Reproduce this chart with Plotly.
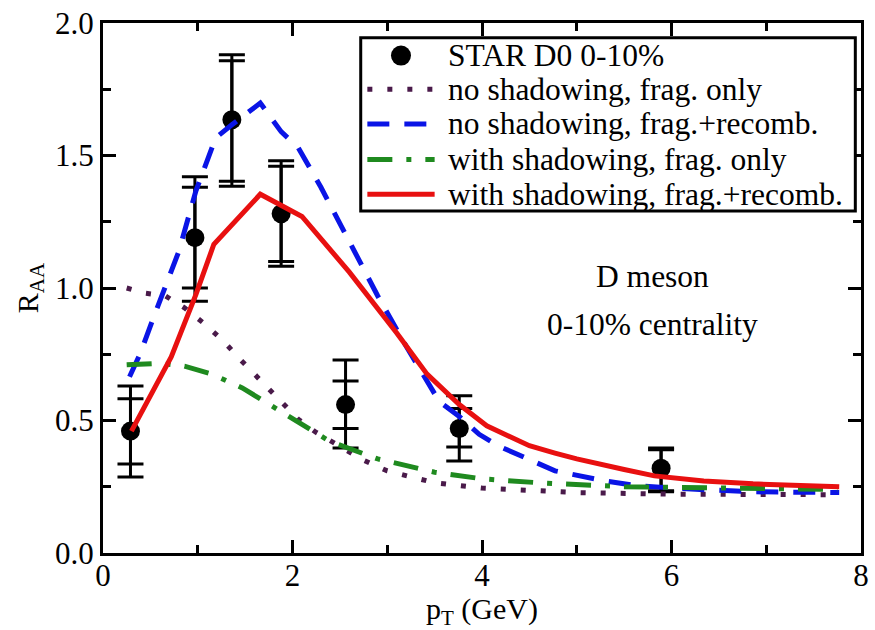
import plotly.graph_objects as go

# ---------------- data ----------------
# STAR D0 0-10% data points
pt_data = [0.29, 0.97, 1.36, 1.88, 2.56, 3.76, 5.89]
raa_data = [0.46, 1.19, 1.635, 1.28, 0.56, 0.47, 0.32]
stat_hi = [0.582, 1.38, 1.858, 1.459, 0.649, 0.545, 0.39]
stat_lo = [0.336, 1.00, 1.403, 1.100, 0.470, 0.400, 0.235]
sys_hi = [0.630, 1.42, 1.880, 1.480, 0.728, 0.593, 0.396]
sys_lo = [0.287, 0.95, 1.384, 1.082, 0.396, 0.347, 0.231]

# no shadowing, frag. only
ns_frag_x = [0.25, 0.45, 0.66, 0.86, 1.07, 1.27, 1.46, 1.66, 1.86, 2.06, 2.25, 2.5, 2.75,
             3.0, 3.5, 4.0, 4.5, 5.0, 6.0, 7.0, 7.75]
ns_frag_y = [1.0, 0.98, 0.97, 0.925, 0.865, 0.80, 0.726, 0.652, 0.58, 0.505, 0.455, 0.40, 0.35,
             0.31, 0.265, 0.245, 0.235, 0.228, 0.222, 0.22, 0.22]

# no shadowing, frag.+recomb.
ns_rec_x = [0.28, 0.39, 0.54, 0.73, 0.80, 0.98, 1.19, 1.36, 1.66, 1.88, 2.06, 2.3, 2.6, 2.9,
            3.2, 3.55, 3.76, 3.97, 4.18, 4.5, 4.77, 5.3, 5.64, 6.16, 6.86, 7.77]
ns_rec_y = [0.665, 0.75, 0.895, 1.067, 1.138, 1.366, 1.567, 1.616, 1.698, 1.59, 1.53, 1.38, 1.17,
            0.97, 0.78, 0.571, 0.515, 0.448, 0.403, 0.35, 0.31, 0.272, 0.254, 0.242, 0.231, 0.228]

# with shadowing, frag. only
ws_frag_x = [0.25, 0.6, 0.86, 1.15, 1.47, 1.76, 2.09, 2.4, 2.9, 3.5, 4.0, 4.6, 5.5, 6.4, 7.2, 7.75]
ws_frag_y = [0.71, 0.716, 0.705, 0.675, 0.623, 0.56, 0.485, 0.42, 0.355, 0.305, 0.28, 0.265,
             0.25, 0.246, 0.243, 0.24]

# with shadowing, frag.+recomb.
ws_rec_x = [0.3, 0.72, 0.98, 1.17, 1.66, 2.1, 2.6, 3.1, 3.42, 3.76, 4.05, 4.25, 4.5, 4.77, 5.0,
            5.5, 5.82, 6.34, 6.86, 7.77]
ws_rec_y = [0.46, 0.74, 0.975, 1.165, 1.354, 1.27, 1.06, 0.83, 0.675, 0.56, 0.48, 0.448, 0.405,
            0.377, 0.355, 0.315, 0.291, 0.272, 0.261, 0.25]

legend_labels = ["STAR D0 0-10%", "no shadowing, frag. only", "no shadowing, frag.+recomb.",
                 "with shadowing, frag. only", "with shadowing, frag.+recomb."]

FONT = "Liberation Serif, Times New Roman, serif"
PURPLE = "#4a1a4a"
BLUE = "#0a14e6"
GREEN = "#1f8a1f"
RED = "#e81010"

styles = [
    dict(color=PURPLE, width=5, dash="5px,15px"),
    dict(color=BLUE, width=5, dash="22px,15px"),
    dict(color=GREEN, width=5, dash="25px,14px,5px,14px"),
    dict(color=RED, width=5, dash="solid"),
]

fig = go.Figure()

# outer (systematic) error bars + points
fig.add_trace(go.Scatter(
    x=pt_data, y=raa_data, mode="markers",
    marker=dict(size=19, color="black"),
    error_y=dict(type="data", symmetric=False,
                 array=[h - v for h, v in zip(sys_hi, raa_data)],
                 arrayminus=[v - l for l, v in zip(sys_lo, raa_data)],
                 color="black", thickness=3, width=13),
    showlegend=False))
# inner (statistical) error bars
fig.add_trace(go.Scatter(
    x=pt_data, y=raa_data, mode="markers",
    marker=dict(size=1, color="rgba(0,0,0,0)"),
    error_y=dict(type="data", symmetric=False,
                 array=[h - v for h, v in zip(stat_hi, raa_data)],
                 arrayminus=[v - l for l, v in zip(stat_lo, raa_data)],
                 color="black", thickness=3, width=13),
    showlegend=False))

curves = [(ns_frag_x, ns_frag_y), (ns_rec_x, ns_rec_y), (ws_frag_x, ws_frag_y), (ws_rec_x, ws_rec_y)]
for (cx, cy), st, lab in zip(curves, styles, legend_labels[1:]):
    fig.add_trace(go.Scatter(x=cx, y=cy, mode="lines", line=st, name=lab, showlegend=False))

# ---------------- manual legend (data coords) ----------------
leg_x0, leg_x1, leg_ytop, leg_ybot = 2.72, 7.94, 1.944, 1.291
fig.add_shape(type="rect", xref="x", yref="y", x0=leg_x0, x1=leg_x1, y0=leg_ybot, y1=leg_ytop,
              line=dict(color="black", width=3), fillcolor="white", layer="above")
row_y = [1.877, 1.750, 1.619, 1.485, 1.354]
sym_x0, sym_x1, txt_x = 2.79, 3.50, 3.62
fig.add_shape(type="circle", xref="x", yref="y", xsizemode="pixel", ysizemode="pixel",
              xanchor=(sym_x0 + sym_x1) / 2, yanchor=row_y[0], x0=-10, x1=10, y0=-10, y1=10,
              fillcolor="black", line=dict(color="black", width=0), layer="above")
for ry, st in zip(row_y[1:], styles):
    fig.add_shape(type="line", xref="x", yref="y", x0=sym_x0, x1=sym_x1, y0=ry, y1=ry,
                  line=st, layer="above")
for ry, lab in zip(row_y, legend_labels):
    fig.add_annotation(x=txt_x, y=ry, xref="x", yref="y", text=lab, showarrow=False,
                       xanchor="left", yanchor="middle",
                       font=dict(family=FONT, size=31.5, color="black"))

fig.add_annotation(x=5.80, y=1.045, xref="x", yref="y", text="D meson", showarrow=False,
                   xanchor="center", yanchor="middle", font=dict(family=FONT, size=31.5, color="black"))
fig.add_annotation(x=5.80, y=0.862, xref="x", yref="y", text="0-10% centrality", showarrow=False,
                   xanchor="center", yanchor="middle", font=dict(family=FONT, size=31.5, color="black"))

axis_common = dict(showline=True, linewidth=3, linecolor="black", mirror="allticks",
                   ticks="inside", ticklen=13, tickwidth=3, tickcolor="black",
                   showgrid=False, zeroline=False, ticklabeloverflow="allow",
                   tickfont=dict(family=FONT, size=31, color="black"))

fig.update_xaxes(range=[0, 8], dtick=2, tick0=0, ticklabelstandoff=-7,
                 minor=dict(dtick=1, ticks="inside", ticklen=8, tickwidth=3, tickcolor="black", showgrid=False),
                 title=dict(text="p<sub>T</sub> (GeV)", font=dict(family=FONT, size=30, color="black"), standoff=4),
                 **axis_common)
fig.update_yaxes(range=[0, 2], dtick=0.5, tick0=0, tickformat=".1f",
                 minor=dict(dtick=0.25, ticks="inside", ticklen=8, tickwidth=3, tickcolor="black", showgrid=False),
                 title=dict(text="R<sub>AA</sub>", font=dict(family=FONT, size=30, color="black"), standoff=8),
                 **axis_common)

fig.update_layout(width=875, height=630, margin=dict(l=103, r=6, t=17, b=77),
                  plot_bgcolor="white", paper_bgcolor="white", showlegend=False,
                  font=dict(family=FONT, size=30, color="black"))

fig.write_html("out.html")
